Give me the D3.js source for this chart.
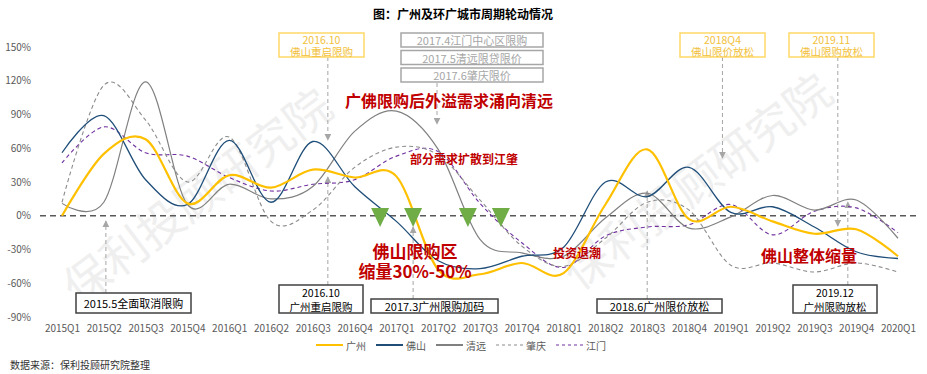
<!DOCTYPE html>
<html>
<head>
<meta charset="utf-8">
<script src="https://cdn.jsdelivr.net/npm/d3@7"></script>
<style>
  body { margin: 0; background: #fff; }
  svg { font-family: "Noto Sans CJK SC", "Noto Sans", sans-serif; }
</style>
</head>
<body>
<svg id="chart"></svg>
<script>
const quarters = ['2015Q1','2015Q2','2015Q3','2015Q4','2016Q1','2016Q2','2016Q3','2016Q4',
    '2017Q1','2017Q2','2017Q3','2017Q4','2018Q1','2018Q2','2018Q3','2018Q4',
    '2019Q1','2019Q2','2019Q3','2019Q4','2020Q1'];
const yTicks = [-90, -60, -30, 0, 30, 60, 90, 120, 150];

// 同比增幅（%），读图估算
const guangzhou = [0, 55, 68, 11, 36, 25, 41, 34, 35, -48, -52, -42, -51, 10, 59, -3, 8, -5, -16, -12, -36];
const foshan    = [56, 89, 32, 10, 67, 12, 66, 26, -5, -40, -47, -36, -28, 30, 17, 43, 3, 8, -10, -32, -38];
const qingyuan  = [11, 12, 119, 10, 28, 15, 26, 75, 93, 59, -21, -33, -36, -2, 20, -11, -1, 18, 5, 14, -20];
const zhaoqing  = [12, 116, 85, 30, 70, -5, 5, 43, 61, 54, 14, -27, -45, -20, 12, 5, -44, -42, -50, -42, -50];
const jiangmen  = [47, 79, 56, 53, 34, 22, 28, 32, 53, 57, 11, -24, -46, -18, -10, -8, 10, -17, 4, 7, -15];

const seriesNames = ['广州', '佛山', '清远', '肇庆', '江门'];

const topNotes = [
    { i: 6.36, lines: ['2016.10', '佛山重启限购'], x0: 279, x1: 364, tip: 140 },
    { i: 15.8, lines: ['2018Q4', '佛山限价放松'], x0: 680, x1: 765, tip: 158 },
    { i: 18.56, lines: ['2019.11', '佛山限购放松'], x0: 789, x1: 874, tip: 226 }
];
const greyNotes = ['2017.4江门中心区限购', '2017.5清远限贷限价', '2017.6肇庆限价'];
const bottomNotes = [
    { i: 1.05, lines: ['2015.5全面取消限购'], x0: 76, x1: 191, top: 293, tip: 221 },
    { i: 6.36, lines: ['2016.10', '广州重启限购'], x0: 279, x1: 363, top: 285, tip: 177 },
    { i: 8.4, lines: ['2017.3广州限购加码'], x0: 371, x1: 498, top: 299, tip: 227 },
    { i: 14.0, lines: ['2018.6广州限价放松'], x0: 597, x1: 722, top: 299, tip: 191 },
    { i: 18.8, lines: ['2019.12', '广州限购放松'], x0: 793, x1: 877, top: 285, tip: 202 }
];
const redNotes = [
    { text: '广佛限购后外溢需求涌向清远', x: 449, y: 100, size: 16 },
    { text: '部分需求扩散到江肇', x: 464, y: 158, size: 12 },
    { text: '佛山限购区', x: 415, y: 250, size: 17 },
    { text: '缩量30%-50%', x: 415, y: 270, size: 17 },
    { text: '投资退潮', x: 577, y: 252, size: 12 },
    { text: '佛山整体缩量', x: 809, y: 255, size: 16 }
];
const triangleAt = [7.61, 8.4, 9.71, 10.5];

const width = 927, height = 374;
const svg = d3.select('#chart').attr('width', width).attr('height', height);

const x = d3.scalePoint().domain(quarters).range([62, 898]);
const step = x.step();
const xi = i => x(quarters[0]) + i * step;
const y = d3.scaleLinear().domain([-90, 150]).range([317, 47]);

// 水印
[[200, 200], [700, 185]].forEach(([cx, cy]) => {
    svg.append('text')
        .attr('transform', `translate(${cx},${cy}) rotate(-37)`)
        .attr('text-anchor', 'middle')
        .attr('dominant-baseline', 'middle')
        .attr('font-size', 46)
        .attr('fill', '#efefef')
        .text('保利投顾研究院');
});

// title
svg.append('text')
    .attr('x', 463).attr('y', 19)
    .attr('text-anchor', 'middle')
    .attr('font-size', 12).attr('font-weight', 'bold')
    .text('图：广州及环广城市周期轮动情况');

// y axis
const yAxis = svg.append('g')
    .attr('transform', 'translate(34,0)')
    .call(d3.axisLeft(y).tickValues(yTicks).tickFormat(d => d + '%').tickSize(0).tickPadding(3));
yAxis.select('.domain').remove();
yAxis.selectAll('text').attr('font-size', 10).attr('fill', '#595959')
    .attr('font-family', '"Noto Sans CJK SC", sans-serif');

// x axis
const xAxis = svg.append('g')
    .attr('transform', 'translate(0,320)')
    .call(d3.axisBottom(x).tickSize(0).tickPadding(5));
xAxis.select('.domain').remove();
xAxis.selectAll('text').attr('font-size', 10).attr('fill', '#595959')
    .attr('font-family', '"Noto Sans CJK SC", sans-serif');

// zero line
svg.append('line')
    .attr('x1', 40).attr('x2', 918)
    .attr('y1', y(0)).attr('y2', y(0))
    .attr('stroke', '#595959').attr('stroke-width', 1.5)
    .attr('stroke-dasharray', '6,4');

// arrows
const defs = svg.append('defs');
defs.append('marker')
    .attr('id', 'arrow')
    .attr('viewBox', '0 0 10 10')
    .attr('refX', 9).attr('refY', 5)
    .attr('markerWidth', 7).attr('markerHeight', 7)
    .attr('markerUnits', 'userSpaceOnUse')
    .attr('orient', 'auto')
    .append('path').attr('d', 'M0,0L10,5L0,10Z').attr('fill', '#a6a6a6');

function arrow(xp, yFrom, yTo) {
    svg.append('line')
        .attr('x1', xp).attr('x2', xp)
        .attr('y1', yFrom).attr('y2', yTo)
        .attr('stroke', '#a6a6a6').attr('stroke-width', 1)
        .attr('stroke-dasharray', '4,3')
        .attr('marker-end', 'url(#arrow)');
}
topNotes.forEach(n => arrow(xi(n.i), 57, n.tip));
arrow(437, 83, 124);
bottomNotes.forEach(n => arrow(xi(n.i), n.top, n.tip));

// lines
const line = vals => d3.line()
    .x((d, i) => x(quarters[i]))
    .y(d => y(d))
    .curve(d3.curveCardinal.tension(0))(vals);

const series = [
    { name: seriesNames[0], vals: guangzhou, color: '#ffc000', w: 2.2, dash: null },
    { name: seriesNames[1], vals: foshan, color: '#1f4e79', w: 1.3, dash: null },
    { name: seriesNames[2], vals: qingyuan, color: '#808080', w: 1.2, dash: null },
    { name: seriesNames[3], vals: zhaoqing, color: '#8c8c8c', w: 1.1, dash: '4,3' },
    { name: seriesNames[4], vals: jiangmen, color: '#7030a0', w: 1.1, dash: '4,3' }
];

[4, 3, 2, 1, 0].forEach(k => {
    const s = series[k];
    svg.append('path')
        .attr('d', line(s.vals))
        .attr('fill', 'none')
        .attr('stroke', s.color)
        .attr('stroke-width', s.w)
        .attr('stroke-dasharray', s.dash);
});

// green triangles
triangleAt.forEach(i => {
    const cx = xi(i), top = 208;
    svg.append('path')
        .attr('d', `M${cx - 9},${top}L${cx + 9},${top}L${cx},${top + 19}Z`)
        .attr('fill', '#70ad47');
});

// note boxes
function box(x0, x1, y0, y1, lines, stroke, color, size) {
    svg.append('rect')
        .attr('x', x0).attr('y', y0)
        .attr('width', x1 - x0).attr('height', y1 - y0)
        .attr('fill', '#fff').attr('stroke', stroke).attr('stroke-width', 1.5);
    const lh = (y1 - y0) / lines.length;
    lines.forEach((t, j) => {
        svg.append('text')
            .attr('x', (x0 + x1) / 2)
            .attr('y', y0 + lh * (j + 0.5))
            .attr('text-anchor', 'middle')
            .attr('dominant-baseline', 'central')
            .attr('font-size', lines.length > 1 ? 10.5 : size)
            .attr('fill', color)
            .text(t);
    });
}
topNotes.forEach(n => box(n.x0, n.x1, 33, 57, n.lines, '#ffd966', '#f2bf3a', 11));
greyNotes.forEach((t, j) => box(401, 543, 33 + j * 17.5, 47 + j * 17.5, [t], '#a6a6a6', '#a6a6a6', 11));
bottomNotes.forEach(n => box(n.x0, n.x1, n.top, 313, n.lines, '#404040', '#000', 11));

// red notes
redNotes.forEach(r => {
    svg.append('text')
        .attr('x', r.x).attr('y', r.y)
        .attr('text-anchor', 'middle')
        .attr('dominant-baseline', 'central')
        .attr('font-size', r.size).attr('font-weight', 'bold')
        .attr('fill', '#c00000')
        .text(r.text);
});

// legend
const legend = svg.append('g').attr('transform', 'translate(316,345)');
series.forEach((s, k) => {
    const g = legend.append('g').attr('transform', `translate(${k * 60},0)`);
    g.append('line')
        .attr('x1', 0).attr('x2', 27)
        .attr('stroke', s.color).attr('stroke-width', s.dash ? 1.2 : 2)
        .attr('stroke-dasharray', s.dash ? '3,3' : null);
    g.append('text')
        .attr('x', 30).attr('dominant-baseline', 'central')
        .attr('font-size', 10).attr('fill', '#595959')
        .text(s.name);
});

// source
svg.append('text')
    .attr('x', 10).attr('y', 364)
    .attr('dominant-baseline', 'central')
    .attr('font-size', 10).attr('fill', '#333')
    .text('数据来源：保利投顾研究院整理');
</script>
</body>
</html>
